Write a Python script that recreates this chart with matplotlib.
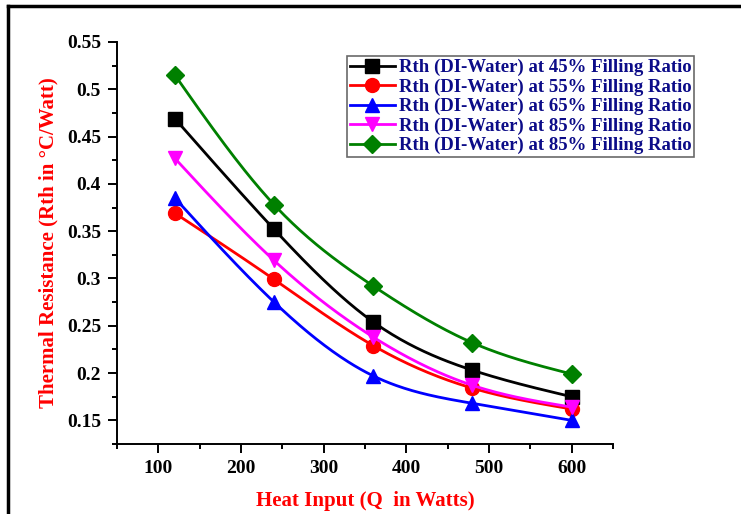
import matplotlib
matplotlib.use("Agg")
import matplotlib.pyplot as plt
from matplotlib.ticker import MultipleLocator, FormatStrFormatter
from matplotlib.lines import Line2D
import numpy as np

heat = [120, 240, 360, 480, 600]
rth_45 = [0.469, 0.352, 0.254, 0.203, 0.175]
rth_55 = [0.369, 0.299, 0.229, 0.184, 0.162]
rth_65 = [0.385, 0.275, 0.197, 0.168, 0.150]
rth_85a = [0.427, 0.319, 0.238, 0.187, 0.164]
rth_85b = [0.515, 0.378, 0.292, 0.232, 0.199]

labels = ["Rth (DI-Water) at 45% Filling Ratio",
          "Rth (DI-Water) at 55% Filling Ratio",
          "Rth (DI-Water) at 65% Filling Ratio",
          "Rth (DI-Water) at 85% Filling Ratio",
          "Rth (DI-Water) at 85% Filling Ratio"]
colors = ["black", "red", "blue", "magenta", "green"]
markers = ["s", "o", "^", "v", "D"]


def spline(x, y, n=200):
    # natural cubic spline, just for the smooth look of the lines
    x = np.asarray(x, float)
    y = np.asarray(y, float)
    k = len(x)
    h = np.diff(x)
    A = np.zeros((k, k))
    b = np.zeros(k)
    A[0, 0] = A[-1, -1] = 1
    for i in range(1, k - 1):
        A[i, i - 1] = h[i - 1]
        A[i, i] = 2 * (h[i - 1] + h[i])
        A[i, i + 1] = h[i]
        b[i] = 3 * ((y[i + 1] - y[i]) / h[i] - (y[i] - y[i - 1]) / h[i - 1])
    c = np.linalg.solve(A, b)
    xs = np.linspace(x[0], x[-1], n)
    ys = np.empty_like(xs)
    for j, xv in enumerate(xs):
        i = min(np.searchsorted(x, xv, side="right") - 1, k - 2)
        dx = xv - x[i]
        bb = (y[i + 1] - y[i]) / h[i] - h[i] * (c[i + 1] + 2 * c[i]) / 3
        d = (c[i + 1] - c[i]) / (3 * h[i])
        ys[j] = y[i] + bb * dx + c[i] * dx ** 2 + d * dx ** 3
    return xs, ys


plt.rcParams['font.family'] = ['Liberation Serif', 'DejaVu Serif']
plt.rcParams['font.weight'] = 'bold'

fig = plt.figure(figsize=(7.41, 5.14), dpi=100)
ax = fig.add_axes([117 / 741, 1 - 444 / 514, (613 - 117) / 741, (444 - 42) / 514])

series = [rth_45, rth_55, rth_65, rth_85a, rth_85b]
handles = []
for vals, col, mk, lab in zip(series, colors, markers, labels):
    ms = 9 if mk == "D" else 10
    xs, ys = spline(heat, vals)
    ax.plot(xs, ys, color=col, lw=2)
    ax.plot(heat, vals, ls="none", marker=mk, color=col, ms=ms)
    handles.append(Line2D([], [], color=col, lw=2, marker=mk, ms=ms))

ax.set_xlim(50, 650)
ax.set_ylim(0.125, 0.55)
ax.xaxis.set_major_locator(MultipleLocator(100))
ax.xaxis.set_minor_locator(MultipleLocator(50))
ax.yaxis.set_minor_locator(MultipleLocator(0.025))
ax.set_yticks([0.15, 0.2, 0.25, 0.3, 0.35, 0.4, 0.45, 0.5, 0.55])
ax.yaxis.set_major_formatter(FormatStrFormatter("%g"))
ax.spines['top'].set_visible(False)
ax.spines['right'].set_visible(False)
for s in ['left', 'bottom']:
    ax.spines[s].set_linewidth(1.4)
ax.tick_params(which='major', direction='out', length=6.5, width=1.4, labelsize=14, pad=5)
ax.tick_params(which='minor', direction='out', length=3.5, width=1.4)
for t in ax.get_xticklabels() + ax.get_yticklabels():
    t.set_fontweight('bold')

ax.set_xlabel("Heat Input (Q  in Watts)", color="red", fontsize=15, fontweight='bold', labelpad=10)
ax.set_ylabel("Thermal Resistance (Rth in \u00b0C/Watt)", color="red", fontsize=15, fontweight='bold', labelpad=6)

leg = ax.legend(handles, labels, loc="upper left", bbox_to_anchor=((347 - 117) / 496, 1 - (56 - 42) / 402),
                frameon=True, fancybox=False, edgecolor="#444444", handlelength=2.4, handletextpad=0.2,
                labelspacing=0.12, borderpad=0.15, borderaxespad=0,
                prop={'size': 13.5, 'weight': 'bold'})
leg.get_frame().set_linewidth(1.2)
for t in leg.get_texts():
    t.set_color("#0c0c88")

# outer frame (top and left edges visible in the original)
fig.add_artist(Line2D([8 / 741, 8 / 741], [0, 1 - 6 / 514], color="black", lw=2.5))
fig.add_artist(Line2D([8 / 741, 1], [1 - 6 / 514, 1 - 6 / 514], color="black", lw=2.5))

fig.savefig("out.png", dpi=100)
